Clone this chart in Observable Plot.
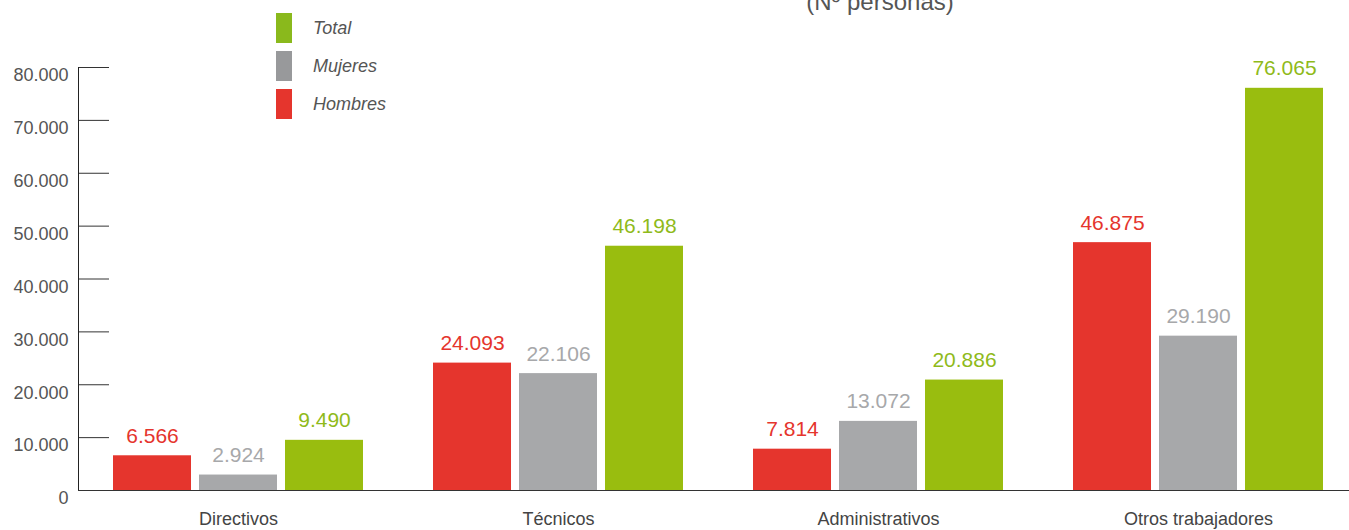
<!DOCTYPE html>
<html>
<head>
<meta charset="utf-8">
<script src="https://cdn.jsdelivr.net/npm/d3@7"></script>
<script src="https://cdn.jsdelivr.net/npm/@observablehq/plot@0.6"></script>
<style>
  html, body { margin: 0; padding: 0; background: #fff; overflow: hidden; }
  #wrap { position: relative; width: 1349px; height: 530px; overflow: hidden; font-family: "Liberation Sans", Arial, sans-serif; }
  #title { position: absolute; left: 680px; width: 400px; top: -10px; text-align: center; font-size: 24px; line-height: 24px; color: #555; }
  #legend { position: absolute; left: 276px; top: 13px; }
  .item { display: flex; align-items: center; height: 30px; margin-bottom: 8px; }
  .sw { width: 16px; height: 30px; margin-right: 21px; }
  .lab { font-style: italic; font-size: 18px; color: #555; }
  #chart { position: absolute; left: 0; top: 0; width: 1358px; }
  #chart svg { max-width: none !important; }
</style>
</head>
<body>
<div id="wrap">
  <div id="chart"></div>
  <div id="title">(Nº personas)</div>
  <div id="legend"></div>
</div>
<script>
const categories = ["Directivos", "Técnicos", "Administrativos", "Otros trabajadores"];
const series = ["Hombres", "Mujeres", "Total"];
const hombres = [6566, 24093, 7814, 46875];
const mujeres = [2924, 22106, 13072, 29190];
const total = [9490, 46198, 20886, 76065];
const yTicks = [0, 10000, 20000, 30000, 40000, 50000, 60000, 70000, 80000];
const barColors = ["#e5352d", "#a7a8aa", "#99bd0f"];
const labelColors = ["#e5352d", "#a7a8aa", "#8fba1a"];
const legendColors = ["#e5352d", "#98999b", "#8ab91c"];

const valuesBySeries = [hombres, mujeres, total];
const data = [];
series.forEach((s, i) => categories.forEach((c, j) => data.push({cat: c, series: s, value: valuesBySeries[i][j]})));

const fmt = d3.formatLocale({decimal: ",", thousands: ".", grouping: [3], currency: ["", "€"]}).format(",d");

const band = 320, barW = 78, step = 86;
const marks = [];
series.forEach((s, i) => {
  const insetLeft = band / 2 + (i - 1) * step - barW / 2;
  const rows = data.filter(d => d.series === s);
  marks.push(Plot.barY(rows, {x: "cat", y: "value", fill: barColors[i], insetLeft, insetRight: band - insetLeft - barW}));
  marks.push(Plot.text(rows, {x: "cat", y: "value", text: d => fmt(d.value), fill: labelColors[i], dx: (i - 1) * step, dy: -13, lineAnchor: "bottom", fontSize: 21}));
});

const chart = Plot.plot({
  width: 1358,
  height: 530,
  marginLeft: 78,
  marginRight: 0,
  marginTop: 67,
  marginBottom: 40,
  style: {fontFamily: "'Liberation Sans', Arial, sans-serif", background: "transparent", maxWidth: "none"},
  x: {domain: categories, padding: 0, label: null},
  y: {domain: [0, 80000], label: null},
  marks: [
    ...marks,
    Plot.axisY({ticks: yTicks, tickSize: 0, tickPadding: 10, tickFormat: fmt, fontSize: 18, fill: "#555", dy: 8, label: null}),
    Plot.axisY({ticks: yTicks, tickSize: -31, tickFormat: () => "", stroke: "#333", label: null}),
    Plot.axisX({tickSize: 0, tickPadding: 22, fontSize: 18, fill: "#444", label: null}),
    Plot.frame({anchor: "left", stroke: "#222"}),
    Plot.ruleY([0], {stroke: "#333"})
  ]
});
chart.style.maxWidth = "none";
document.getElementById("chart").appendChild(chart);

const legend = document.getElementById("legend");
[2, 1, 0].forEach(i => {
  const item = document.createElement("div");
  item.className = "item";
  item.innerHTML = `<div class="sw" style="background:${legendColors[i]}"></div><div class="lab">${series[i]}</div>`;
  legend.appendChild(item);
});
</script>
</body>
</html>
